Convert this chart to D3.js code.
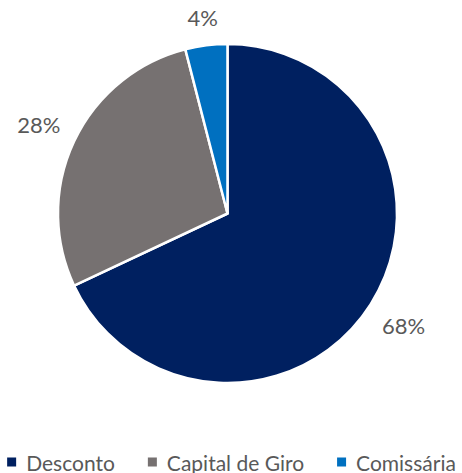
<!DOCTYPE html>
<html>
<head>
<meta charset="utf-8">
<script src="https://cdn.jsdelivr.net/npm/d3@7"></script>
<style>
  html, body { margin: 0; padding: 0; background: #fff; }
  svg { display: block; }
</style>
</head>
<body>
<div id="chart"></div>
<script>
/* categories + shares (percent) */
const categories = ['Desconto', 'Capital de Giro', 'Comissária'];
const shares = [68, 28, 4];
const colors = ['#002060', '#767171', '#0070C0'];

const W = 462, H = 473;
const cx = 227.5, cy = 213.5, R = 169.5;
const FONT = 'Lato, "Open Sans", sans-serif';
const TXT = '#595959';

const svg = d3.select('#chart').append('svg')
  .attr('width', W).attr('height', H).attr('viewBox', `0 0 ${W} ${H}`);

const data = categories.map((c, i) => ({ name: c, value: shares[i], color: colors[i] }));

const pie = d3.pie().value(d => d.value).sort(null);
const arc = d3.arc().innerRadius(0).outerRadius(R);
const arcs = pie(data);

const g = svg.append('g').attr('transform', `translate(${cx},${cy})`);

g.selectAll('path.slice').data(arcs).join('path')
  .attr('class', 'slice')
  .attr('d', arc)
  .attr('fill', d => d.data.color)
  .attr('stroke', '#fff').attr('stroke-width', 2.5)
  .attr('stroke-linejoin', 'round');

/* outside labels: box kept a fixed gap from the rim */
const gap = 15;
g.selectAll('text.lbl').data(arcs).join('text')
  .attr('class', 'lbl')
  .attr('font-family', FONT).attr('font-size', 22)
  .attr('fill', TXT)
  .attr('text-anchor', 'middle')
  .attr('dominant-baseline', 'central')
  .text(d => d.data.value + '%')
  .each(function(d) {
    const bb = this.getBBox();
    const a = (d.startAngle + d.endAngle) / 2;
    const s = Math.sin(a), c = Math.cos(a);
    const dist = R + gap + (bb.width / 2) * Math.abs(s) + (bb.height / 2) * Math.abs(c) * 0.8;
    d3.select(this).attr('x', dist * s).attr('y', -dist * c);
  });

/* legend along the bottom */
const leg = svg.append('g');
const sq = 9, sqGap = 10, itemGap = 33, legY = 462;
let xPos = 0;
data.forEach(d => {
  const it = leg.append('g').attr('transform', `translate(${xPos},0)`);
  it.append('rect').attr('x', 0).attr('y', legY - sq / 2)
    .attr('width', sq).attr('height', sq).attr('fill', d.color);
  const t = it.append('text').attr('x', sq + sqGap).attr('y', legY)
    .attr('dominant-baseline', 'central')
    .attr('font-family', FONT).attr('font-size', 21)
    .attr('fill', TXT).text(d.name);
  xPos += sq + sqGap + t.node().getComputedTextLength() + itemGap;
});
const legW = xPos - itemGap;
leg.attr('transform', `translate(${(W - legW) / 2 + 0.5},0)`);
</script>
</body>
</html>
